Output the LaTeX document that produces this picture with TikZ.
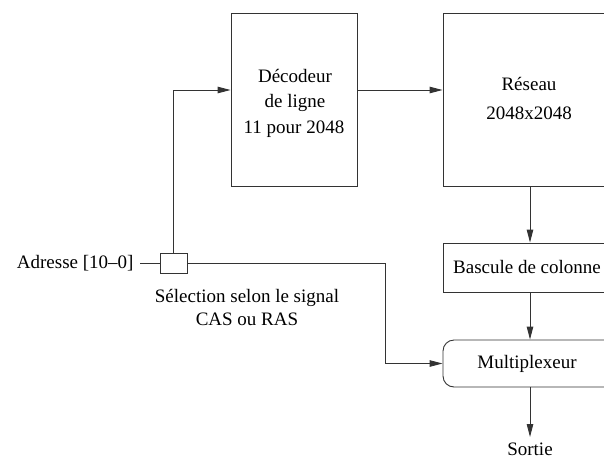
\documentclass[tikz,border=0pt]{standalone}
\usepackage{fontspec}
\setmainfont{Liberation Serif}
\usetikzlibrary{arrows.meta}
\begin{document}
\begin{tikzpicture}[x=1pt,y=-1pt,
  line width=0.9pt,
  every node/.style={font=\fontsize{19}{23}\selectfont, text=black},
  blockbox/.style={draw=black!80, rectangle, inner sep=0pt},
  lbl/.style={anchor=base, inner sep=0pt},
  wire/.style={draw=black!80},
  arr/.style={wire, -{Triangle[length=13pt,width=6.5pt]}}]
  \useasboundingbox (0,0) rectangle (604,458);
  \clip (0,0) rectangle (604,458);

  % functional blocks
  \node[blockbox, minimum width=126pt, minimum height=173pt] (dec) at (294,99.5) {};
  \node[blockbox, minimum width=174pt, minimum height=173pt] (res) at (530,99.5) {};
  \node[blockbox, minimum width=174pt, minimum height=49pt] (bas) at (530,267.5) {};
  \node[blockbox, rounded corners=11pt, minimum width=174pt, minimum height=47pt] (mux) at (530,363.5) {};
  \node[blockbox, minimum width=27pt, minimum height=20pt] (sel) at (173.5,263) {};

  % block texts
  \node[lbl] (dec1) at (295,82) {Décodeur};
  \node[lbl] (dec2) at (295,107.5) {de ligne};
  \node[lbl] (dec3) at (294,133) {11 pour 2048};
  \node[lbl] (res1) at (529,90) {Réseau};
  \node[lbl] (res2) at (529,119) {2048x2048};
  \node[lbl] (bas1) at (527,273) {Bascule de colonne};
  \node[lbl] (mux1) at (527,368) {Multiplexeur};

  % free texts
  \node[lbl, anchor=base east] (adr) at (134,268) {Adresse [10–0]};
  \node[lbl] (sel1) at (247,302) {Sélection selon le signal};
  \node[lbl] (sel2) at (247,325) {CAS ou RAS};
  \node[lbl] (out) at (530,455) {Sortie};

  % connections
  \coordinate (adrend) at (140,263);
  \coordinate (bend) at (385,263);
  \coordinate (outtip) at (530,437);
  \draw[wire] (adrend) -- (sel.west);
  \draw[arr] (sel.north) |- (dec.west |- 0,90);
  \draw[arr] (dec.east |- 0,90) -- (res.west |- 0,90);
  \draw[arr] (res.south) -- (bas.north);
  \draw[arr] (bas.south) -- (mux.north);
  \draw[arr] (sel.east) -- (bend) |- (mux.west);
  \draw[arr] (mux.south) -- (outtip);
\end{tikzpicture}
\end{document}
